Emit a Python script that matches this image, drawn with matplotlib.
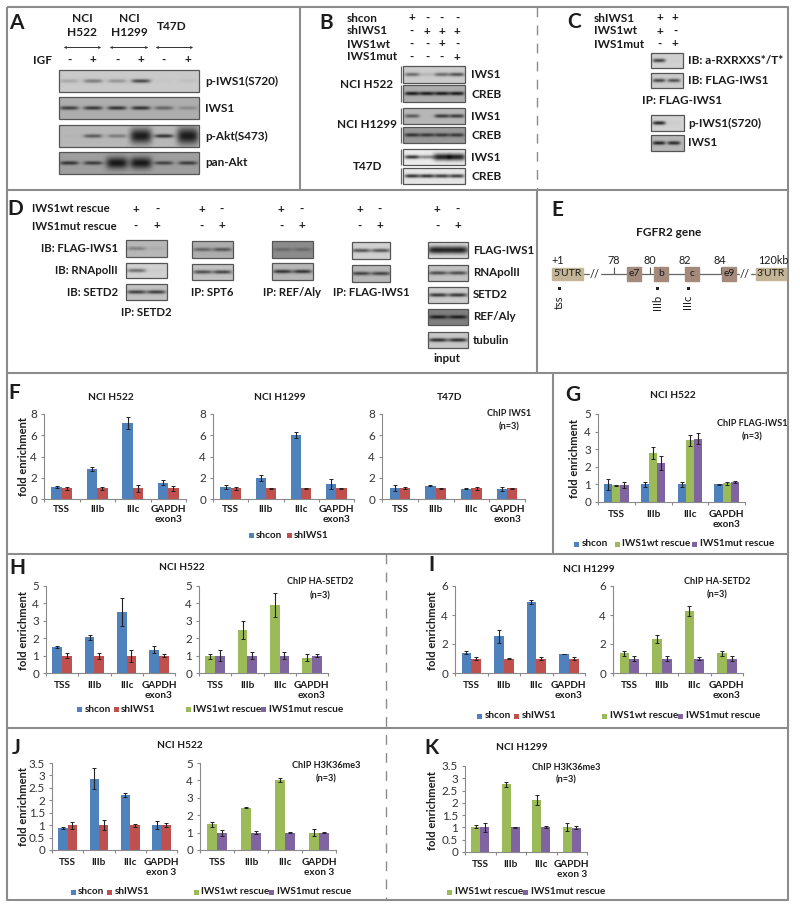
import numpy as np
import matplotlib
matplotlib.use('Agg')
import matplotlib.pyplot as plt
from matplotlib.patches import Rectangle

plt.rcParams['font.family'] = ['Lato', 'DejaVu Sans']

W, H = 800, 908
BLUE, RED, GREEN, PURPLE = '#4f81bd', '#c0504d', '#9bbb59', '#8064a2'
TXT = '#1c1c1c'
FRAME = '#8c8c8c'
TITLE = 7.3
NOTE = 6.6

# chart data
sites = ['TSS', 'IIIb', 'IIIc', 'GAPDH\nexon3']
sites3 = ['TSS', 'IIIb', 'IIIc', 'GAPDH\nexon 3']

f1_con = [1.15, 2.8, 7.15, 1.55]
f1_con_err = [.08, .2, .55, .2]
f1_sh = [1, 1, 1, 1]
f1_sh_err = [.15, .15, .3, .25]
f2_con = [1.15, 2, 6, 1.4]
f2_con_err = [.2, .3, .3, .45]
f2_sh = [1, 1, 1, 1]
f2_sh_err = [.12, .03, .03, .08]
f3_con = [1.05, 1.25, .95, .95]
f3_con_err = [.25, .05, .04, .15]
f3_sh = [1, 1, 1, 1]
f3_sh_err = [.1, .08, .15, .03]

g_con = [1, 1, 1, 1]
g_con_err = [.3, .12, .15, .05]
g_wt = [.95, 2.8, 3.5, 1.07]
g_wt_err = [.03, .35, .33, .08]
g_mut = [.95, 2.2, 3.6, 1.15]
g_mut_err = [.17, .4, .3, .05]

h1_con = [1.5, 2.05, 3.5, 1.35]
h1_con_err = [.08, .15, .8, .22]
h1_sh = [1, 1, 1, 1]
h1_sh_err = [.13, .17, .35, .07]
h2_wt = [.95, 2.47, 3.9, .88]
h2_wt_err = [.12, .5, .7, .2]
h2_mut = [1, 1, 1, 1]
h2_mut_err = [.3, .2, .18, .07]

i1_con = [1.4, 2.55, 4.9, 1.3]
i1_con_err = [.12, .45, .12, .02]
i1_sh = [1, 1, 1, 1]
i1_sh_err = [.1, .03, .08, .08]
i2_wt = [1.35, 2.35, 4.25, 1.35]
i2_wt_err = [.15, .3, .35, .2]
i2_mut = [1, 1, 1, 1]
i2_mut_err = [.18, .15, .12, .2]

j1_con = [.9, 2.87, 2.2, 1]
j1_con_err = [.04, .42, .08, .15]
j1_sh = [1, 1, 1, 1]
j1_sh_err = [.14, .2, .06, .08]
j2_wt = [1.47, 2.43, 4, 1]
j2_wt_err = [.12, .02, .12, .2]
j2_mut = [1, 1, 1, 1]
j2_mut_err = [.17, .07, .01, .05]

k_wt = [1.02, 2.75, 2.13, 1]
k_wt_err = [.06, .1, .2, .16]
k_mut = [1, 1, 1, .98]
k_mut_err = [.2, .01, .04, .06]

# western blot band strength per lane (above 1 = saturated, thick band)
a_piws1 = [.2, .45, .3, .75, .02, .06]
a_iws1 = [.75, .8, .85, .85, .5, .25]
a_pakt = [.02, .6, .4, 1.6, .85, 1.7]
a_panakt = [.8, .75, 1.4, 1.4, .7, .75]

b_h522_iws1 = [.55, .12, .55, .7]
b_h522_creb = [1, 1, 1, 1]
b_h1299_iws1 = [.6, .02, .8, .8]
b_h1299_creb = [.8, .75, .75, .75]
b_t47d_iws1 = [.9, .5, 1.15, 1.15]
b_t47d_creb = [.9, .9, .85, .85]

c_rxr = [.8, .02]
c_flag = [.75, .7]
c_piws1 = [.95, .02]
c_iws1 = [.95, .9]

d_setd2_flag = [.35, .08]
d_setd2_pol = [.55, .03]
d_setd2_setd2 = [.8, .8]
d_spt6_flag = [.5, .6]
d_spt6_pol = [.7, .75]
d_ref_flag = [.3, .3]
d_ref_pol = [.85, .85]
d_flag_flag = [.7, .7]
d_flag_pol = [.75, .75]
d_in_flag = [1.2, 1.2]
d_in_pol = [.7, .7]
d_in_setd2 = [.85, .85]
d_in_ref = [.9, .9]
d_in_tub = [.9, .9]

fig = plt.figure(figsize=(W / 100, H / 100), dpi=100, facecolor='white')
ov = fig.add_axes([0, 0, 1, 1], zorder=5)
ov.set_xlim(0, W)
ov.set_ylim(H, 0)
ov.axis('off')
ov.patch.set_alpha(0)


def label(x, y, s, size=8.3, ha='center', weight='bold', **kw):
    ov.text(x, y, s, fontsize=size, ha=ha, va='center', weight=weight, color=TXT, **kw)


def line(xs, ys, dashed=False, lw=1.5, c=FRAME):
    ov.plot(xs, ys, color=c, lw=lw, ls=(0, (7, 6)) if dashed else '-', solid_capstyle='butt')


def blot(x0, y0, x1, y1, bands, centers, bg=.78, halfw=8.5):
    nx, ny = int((x1 - x0) * 3), int((y1 - y0) * 3)
    xx, yy = np.meshgrid(np.linspace(x0, x1, nx), np.linspace(y0, y1, ny))
    img = np.full(xx.shape, bg, dtype=float)
    yc = (y0 + y1) / 2
    for b, c in zip(bands, centers):
        thick = 1.9
        hw = halfw
        if b > 1:
            thick = 2.2 + (b - 1) * 9
            hw = halfw * 1.15
        prof = np.exp(-((xx - c) / hw) ** 4) * np.exp(-((yy - yc) / thick) ** 2)
        img -= min(b, 1) * prof * .85 * bg
    ov.imshow(np.clip(img, 0, 1), extent=(x0, x1, y1, y0), cmap='gray', vmin=0, vmax=1,
              aspect='auto', interpolation='bilinear', zorder=2)
    ov.add_patch(Rectangle((x0, y0), x1 - x0, y1 - y0, fill=False, ec='#555555', lw=.9, zorder=3))


def bars(box, ymax, ticks, series, errs, colors, labels=sites, width=.29, ticklabels=None, pad=4.5):
    x0, x1, ytop, ybot = box
    ax = fig.add_axes([x0 / W, 1 - ybot / H, (x1 - x0) / W, (ybot - ytop) / H])
    n = len(series)
    pos = np.arange(4)
    for k, (v, e, c) in enumerate(zip(series, errs, colors)):
        ax.bar(pos + (k - (n - 1) / 2) * width, v, width, color=c, yerr=e,
               error_kw=dict(ecolor='#222222', elinewidth=.8, capsize=1.5, capthick=.7))
    ax.set_xlim(-.5, 3.5)
    ax.set_ylim(0, ymax)
    ax.set_yticks(ticks)
    ax.set_yticklabels(ticklabels if ticklabels else [str(t) for t in ticks], fontsize=8.4, color='#333333')
    ax.set_xticks(pos)
    ax.set_xticklabels(labels, fontsize=7.2, weight='bold', color=TXT, linespacing=1.15)
    ax.set_xticks(np.arange(-.5, 4), minor=True)
    ax.tick_params(axis='x', which='major', length=0, pad=pad)
    ax.tick_params(axis='x', which='minor', length=2.5, color='#8a8a8a', width=.8)
    ax.tick_params(axis='y', length=2.5, color='#8a8a8a', width=.8, pad=2.5)
    for s in ['top', 'right']:
        ax.spines[s].set_visible(False)
    for s in ['left', 'bottom']:
        ax.spines[s].set_color('#8a8a8a')
        ax.spines[s].set_linewidth(.8)
    return ax


def legend(y, items):
    for sx, tx, c, s in items:
        ov.add_patch(Rectangle((sx - 2.5, y - 2.5), 5, 5, color=c, lw=0))
        label(tx, y, s, ha='left', size=7.2)


def ylab(x, y):
    label(x, y, 'fold enrichment', rotation=90, size=8)


# frame
line([7, 788, 788, 7, 7], [7, 7, 900, 900, 7])
line([7, 788], [190, 190])
line([7, 788], [372.5, 372.5])
line([7, 788], [554, 554])
line([7, 788], [728, 728])
line([299.5, 299.5], [7, 190])
line([537, 537], [7, 190], dashed=True, lw=1)
line([537, 537], [190, 372.5])
line([552.5, 552.5], [372.5, 554])
line([386, 386], [554, 900], dashed=True, lw=1)

# A
label(16, 23, 'A', size=15)
label(82, 18, 'NCI', size=8.6)
label(82, 33, 'H522', size=8.6)
label(129, 18, 'NCI', size=8.6)
label(129, 33, 'H1299', size=8.6)
label(172, 26, 'T47D', size=8.6)
for a, b in [(61, 104), (107, 151), (153, 196)]:
    ov.annotate('', xy=(a, 47.5), xytext=(b, 47.5), arrowprops=dict(arrowstyle='<->', lw=.7, color='#333333', mutation_scale=3))
label(42, 60, 'IGF', size=8.5)
alanes = [69, 93, 117, 141, 164, 188]
for x, m in zip(alanes, '-+-+-+'):
    label(x, 60, m, size=8.5)
a_boxes = [(70, 92, a_piws1, .79, 'p-IWS1(S720)'), (97, 119, a_iws1, .68, 'IWS1'),
           (125, 147, a_pakt, .72, 'p-Akt(S473)'), (152, 174, a_panakt, .62, 'pan-Akt')]
for y0, y1, d, bg, s in a_boxes:
    blot(59, y0, 199, y1, d, alanes, bg=bg, halfw=9.5)
    label(205, (y0 + y1) / 2, s, ha='left', size=8.5)

# B
label(326, 23, 'B', size=15)
for y, s, row in [(18, 'shcon', '+---'), (31, 'shIWS1', '-+++'), (44, 'IWS1wt', '--+-'), (57, 'IWS1mut', '---+')]:
    label(347, y, s, ha='left', size=8.5)
    for x, m in zip([412, 427, 442, 457], row):
        label(x, y, m, size=8.5)
blanes = [412, 427, 442, 457]
b_boxes = [(66, 83, b_h522_iws1, .8, 'IWS1'), (85, 102, b_h522_creb, .68, 'CREB'),
           (108, 124, b_h1299_iws1, .72, 'IWS1'), (127, 143, b_h1299_creb, .6, 'CREB'),
           (149, 165, b_t47d_iws1, .92, 'IWS1'), (168, 184, b_t47d_creb, .9, 'CREB')]
for y0, y1, d, bg, s in b_boxes:
    blot(403, y0, 465, y1, d, blanes, bg=bg, halfw=7.5)
    label(471, (y0 + y1) / 2 + .5, s, ha='left', size=8.6)
    line([400.5, 400.5], [y0, y1], lw=.9, c='#666666')
label(367, 84, 'NCI H522', size=8.5)
label(367, 125, 'NCI H1299', size=8.5)
label(368, 167, 'T47D', size=8.5)

# C
label(574, 22, 'C', size=15)
for y, s, row in [(18, 'shIWS1', '++'), (31, 'IWS1wt', '+-'), (44, 'IWS1mut', '-+')]:
    label(594, y, s, ha='left', size=8.5)
    for x, m in zip([660, 675], row):
        label(x, y, m, size=8.5)
clanes = [659, 674]
c_boxes = [(651, 53, 683, 68, c_rxr, .82, 'IB: a-RXRXXS*/T*'), (651, 73, 683, 88, c_flag, .8, 'IB: FLAG-IWS1'),
           (651, 115, 684, 131, c_piws1, .82, 'p-IWS1(S720)'), (651, 135, 684, 151, c_iws1, .72, 'IWS1')]
for x0, y0, x1, y1, d, bg, s in c_boxes:
    blot(x0, y0, x1, y1, d, clanes, bg=bg, halfw=6.5)
    label(688, (y0 + y1) / 2, s, ha='left', size=8.5)
label(682, 101, 'IP: FLAG-IWS1', size=8.5)

# D
label(15, 209, 'D', size=15)
label(32, 209, 'IWS1wt rescue', ha='left', size=8.2)
label(32, 226, 'IWS1mut rescue', ha='left', size=8.2)
for xa, xb in [(136, 157), (202, 222), (281, 302), (360, 380), (437, 458)]:
    label(xa, 209, '+', size=8.5)
    label(xb, 209, '-', size=8.5)
    label(xa, 226, '-', size=8.5)
    label(xb, 226, '+', size=8.5)
label(118, 248, 'IB: FLAG-IWS1', ha='right', size=8.2)
label(118, 271, 'IB: RNApolII', ha='right', size=8.2)
label(118, 293, 'IB: SETD2', ha='right', size=8.2)

d_panels = [
    (126, 167, [(240, 257, d_setd2_flag, .72), (263, 278, d_setd2_pol, .82), (284, 300, d_setd2_setd2, .76)]),
    (192, 233, [(241, 258, d_spt6_flag, .68), (264, 280, d_spt6_pol, .76)]),
    (272, 313, [(241, 258, d_ref_flag, .55), (263, 280, d_ref_pol, .72)]),
    (352, 390, [(242, 259, d_flag_flag, .82), (265, 282, d_flag_pol, .72)]),
    (428, 468, [(242, 258, d_in_flag, .88), (265, 281, d_in_pol, .76), (287, 303, d_in_setd2, .8),
                (309, 325, d_in_ref, .5), (332, 348, d_in_tub, .78)]),
]
for x0, x1, rows in d_panels:
    mid = (x0 + x1) / 2
    for y0, y1, d, bg in rows:
        blot(x0, y0, x1, y1, d, [mid - 10, mid + 10], bg=bg, halfw=9.5)
label(146, 313, 'IP: SETD2', size=8.2)
label(212, 292, 'IP: SPT6', size=8.2)
label(292, 292, 'IP: REF/Aly', size=8.2)
label(371, 292, 'IP: FLAG-IWS1', size=8.2)
for y, s in [(250, 'FLAG-IWS1'), (273, 'RNApolII'), (295, 'SETD2'), (317, 'REF/Aly'), (340, 'tubulin')]:
    label(473, y, s, ha='left', size=8.3)
label(447, 359, 'input', size=8.3)

# E
label(557, 210, 'E', size=15)
label(669, 232, 'FGFR2 gene', size=8.6)
line([583, 756], [274, 274], lw=.9, c='#666666')
ov.add_patch(Rectangle((590, 270), 10, 8, color='white', zorder=2))
ov.add_patch(Rectangle((740, 270), 10, 8, color='white', zorder=2))
label(595, 274, '//', weight='normal', size=8, zorder=3)
label(745, 274, '//', weight='normal', size=8, zorder=3)
for x0, x1, c, s in [(552, 583, '#c4b596', "5'UTR"), (756, 786, '#c4b596', "3'UTR")]:
    ov.add_patch(Rectangle((x0, 268), x1 - x0, 12, color=c, zorder=3))
    label((x0 + x1) / 2, 274, s, weight='normal', size=7.5, zorder=4)
for x0, x1, s in [(627, 641, 'e7'), (654, 668, 'b'), (685, 699, 'c'), (722, 736, 'e9')]:
    ov.add_patch(Rectangle((x0, 267), x1 - x0, 14, color='#a48a7b', zorder=3))
    label((x0 + x1) / 2, 274, s, weight='normal', size=7.5, zorder=4)
for x, s in [(558, '+1'), (614, '78'), (650, '80'), (685, '82'), (720, '84'), (773, '120kb')]:
    label(x, 260, s, weight='normal', size=7.8)
for x in [614, 650, 721]:
    line([x, x], [267, 274], lw=.8, c='#555555')
for x, s in [(559, 'tss'), (657, 'IIIb'), (688, 'IIIc')]:
    ov.add_patch(Rectangle((x - 1.5, 286.5), 3, 3.5, color='#222222', lw=0))
    label(x, 302, s, rotation=90, weight='normal', size=8)

# F
label(14, 393, 'F', size=15)
label(111, 398, 'NCI H522', size=TITLE)
label(280, 398, 'NCI H1299', size=TITLE)
label(450, 398, 'T47D', size=TITLE)
bars((44, 186, 414, 499), 8, [0, 2, 4, 6, 8], [f1_con, f1_sh], [f1_con_err, f1_sh_err], [BLUE, RED])
bars((213, 354, 414, 499), 8, [0, 2, 4, 6, 8], [f2_con, f2_sh], [f2_con_err, f2_sh_err], [BLUE, RED])
bars((382, 525, 414, 499), 8, [0, 2, 4, 6, 8], [f3_con, f3_sh], [f3_con_err, f3_sh_err], [BLUE, RED])
ylab(24, 456)
label(509, 414, 'ChIP IWS1', size=NOTE)
label(509, 427, '(n=3)', size=NOTE)
legend(535, [(251, 256, BLUE, 'shcon'), (289, 294, RED, 'shIWS1')])

# G
label(573, 395, 'G', size=15)
label(673, 396, 'NCI H522', size=TITLE)
bars((598, 745, 414, 502), 5, [0, 1, 2, 3, 4, 5], [g_con, g_wt, g_mut], [g_con_err, g_wt_err, g_mut_err],
     [BLUE, GREEN, PURPLE], width=.22, pad=6)
ylab(575, 458)
label(752, 424, 'ChIP FLAG-IWS1', size=NOTE)
label(752, 437, '(n=3)', size=NOTE)
legend(544, [(576, 582, BLUE, 'shcon'), (617, 622, GREEN, 'IWS1wt rescue'), (694, 700, PURPLE, 'IWS1mut rescue')])

# H
label(17, 568, 'H', size=15)
label(182, 568, 'NCI H522', size=TITLE)
bars((46, 175, 586, 673), 5, [0, 1, 2, 3, 4, 5], [h1_con, h1_sh], [h1_con_err, h1_sh_err], [BLUE, RED], width=.3, pad=6)
bars((199, 328, 586, 673), 5, [0, 1, 2, 3, 4, 5], [h2_wt, h2_mut], [h2_wt_err, h2_mut_err], [GREEN, PURPLE], width=.3, pad=6)
ylab(24, 630)
label(320, 582, 'ChIP HA-SETD2', size=NOTE)
label(320, 596, '(n=3)', size=NOTE)
legend(709, [(79, 85, BLUE, 'shcon'), (116, 121, RED, 'shIWS1'), (188, 193, GREEN, 'IWS1wt rescue'), (263, 269, PURPLE, 'IWS1mut rescue')])

# I
label(431, 565, 'I', size=15)
label(589, 570, 'NCI H1299', size=TITLE)
bars((455, 585, 586, 673), 6, [0, 2, 4, 6], [i1_con, i1_sh], [i1_con_err, i1_sh_err], [BLUE, RED], width=.3, pad=6)
bars((613, 743, 586, 673), 6, [0, 2, 4, 6], [i2_wt, i2_mut], [i2_wt_err, i2_mut_err], [GREEN, PURPLE], width=.3, pad=6)
ylab(432, 630)
label(717, 582, 'ChIP HA-SETD2', size=NOTE)
label(717, 595, '(n=3)', size=NOTE)
legend(716, [(479, 485, BLUE, 'shcon'), (516, 522, RED, 'shIWS1'), (604, 610, GREEN, 'IWS1wt rescue'), (680, 686, PURPLE, 'IWS1mut rescue')])

# J
ticks35 = [0, .5, 1, 1.5, 2, 2.5, 3, 3.5]
tl35 = ['0', '0.5', '1', '1.5', '2', '2.5', '3', '3.5']
label(16, 748, 'J', size=15)
label(180, 746, 'NCI H522', size=TITLE)
bars((52, 177, 763, 850), 3.5, ticks35, [j1_con, j1_sh], [j1_con_err, j1_sh_err], [BLUE, RED], labels=sites3,
     width=.3, ticklabels=tl35, pad=5.5)
bars((200, 336, 763, 850), 5, [0, 1, 2, 3, 4, 5], [j2_wt, j2_mut], [j2_wt_err, j2_mut_err], [GREEN, PURPLE], labels=sites3,
     width=.3, pad=5.5)
ylab(24, 806)
label(326, 766, 'ChIP H3K36me3', size=NOTE)
label(326, 779, '(n=3)', size=NOTE)
legend(892, [(73, 78, BLUE, 'shcon'), (109, 115, RED, 'shIWS1'), (196, 201, GREEN, 'IWS1wt rescue'), (271, 277, PURPLE, 'IWS1mut rescue')])

# K
label(432, 748, 'K', size=15)
label(522, 748, 'NCI H1299', size=TITLE)
bars((465, 587, 766, 852), 3.5, ticks35, [k_wt, k_mut], [k_wt_err, k_mut_err], [GREEN, PURPLE], labels=sites3,
     width=.29, ticklabels=tl35, pad=5.5)
ylab(432, 810)
label(566, 767, 'ChIP H3K36me3', size=NOTE)
label(566, 780, '(n=3)', size=NOTE)
legend(892, [(449, 455, GREEN, 'IWS1wt rescue'), (525, 531, PURPLE, 'IWS1mut rescue')])

ov.set_xlim(0, W)
ov.set_ylim(H, 0)
fig.savefig('out.png', dpi=100)
